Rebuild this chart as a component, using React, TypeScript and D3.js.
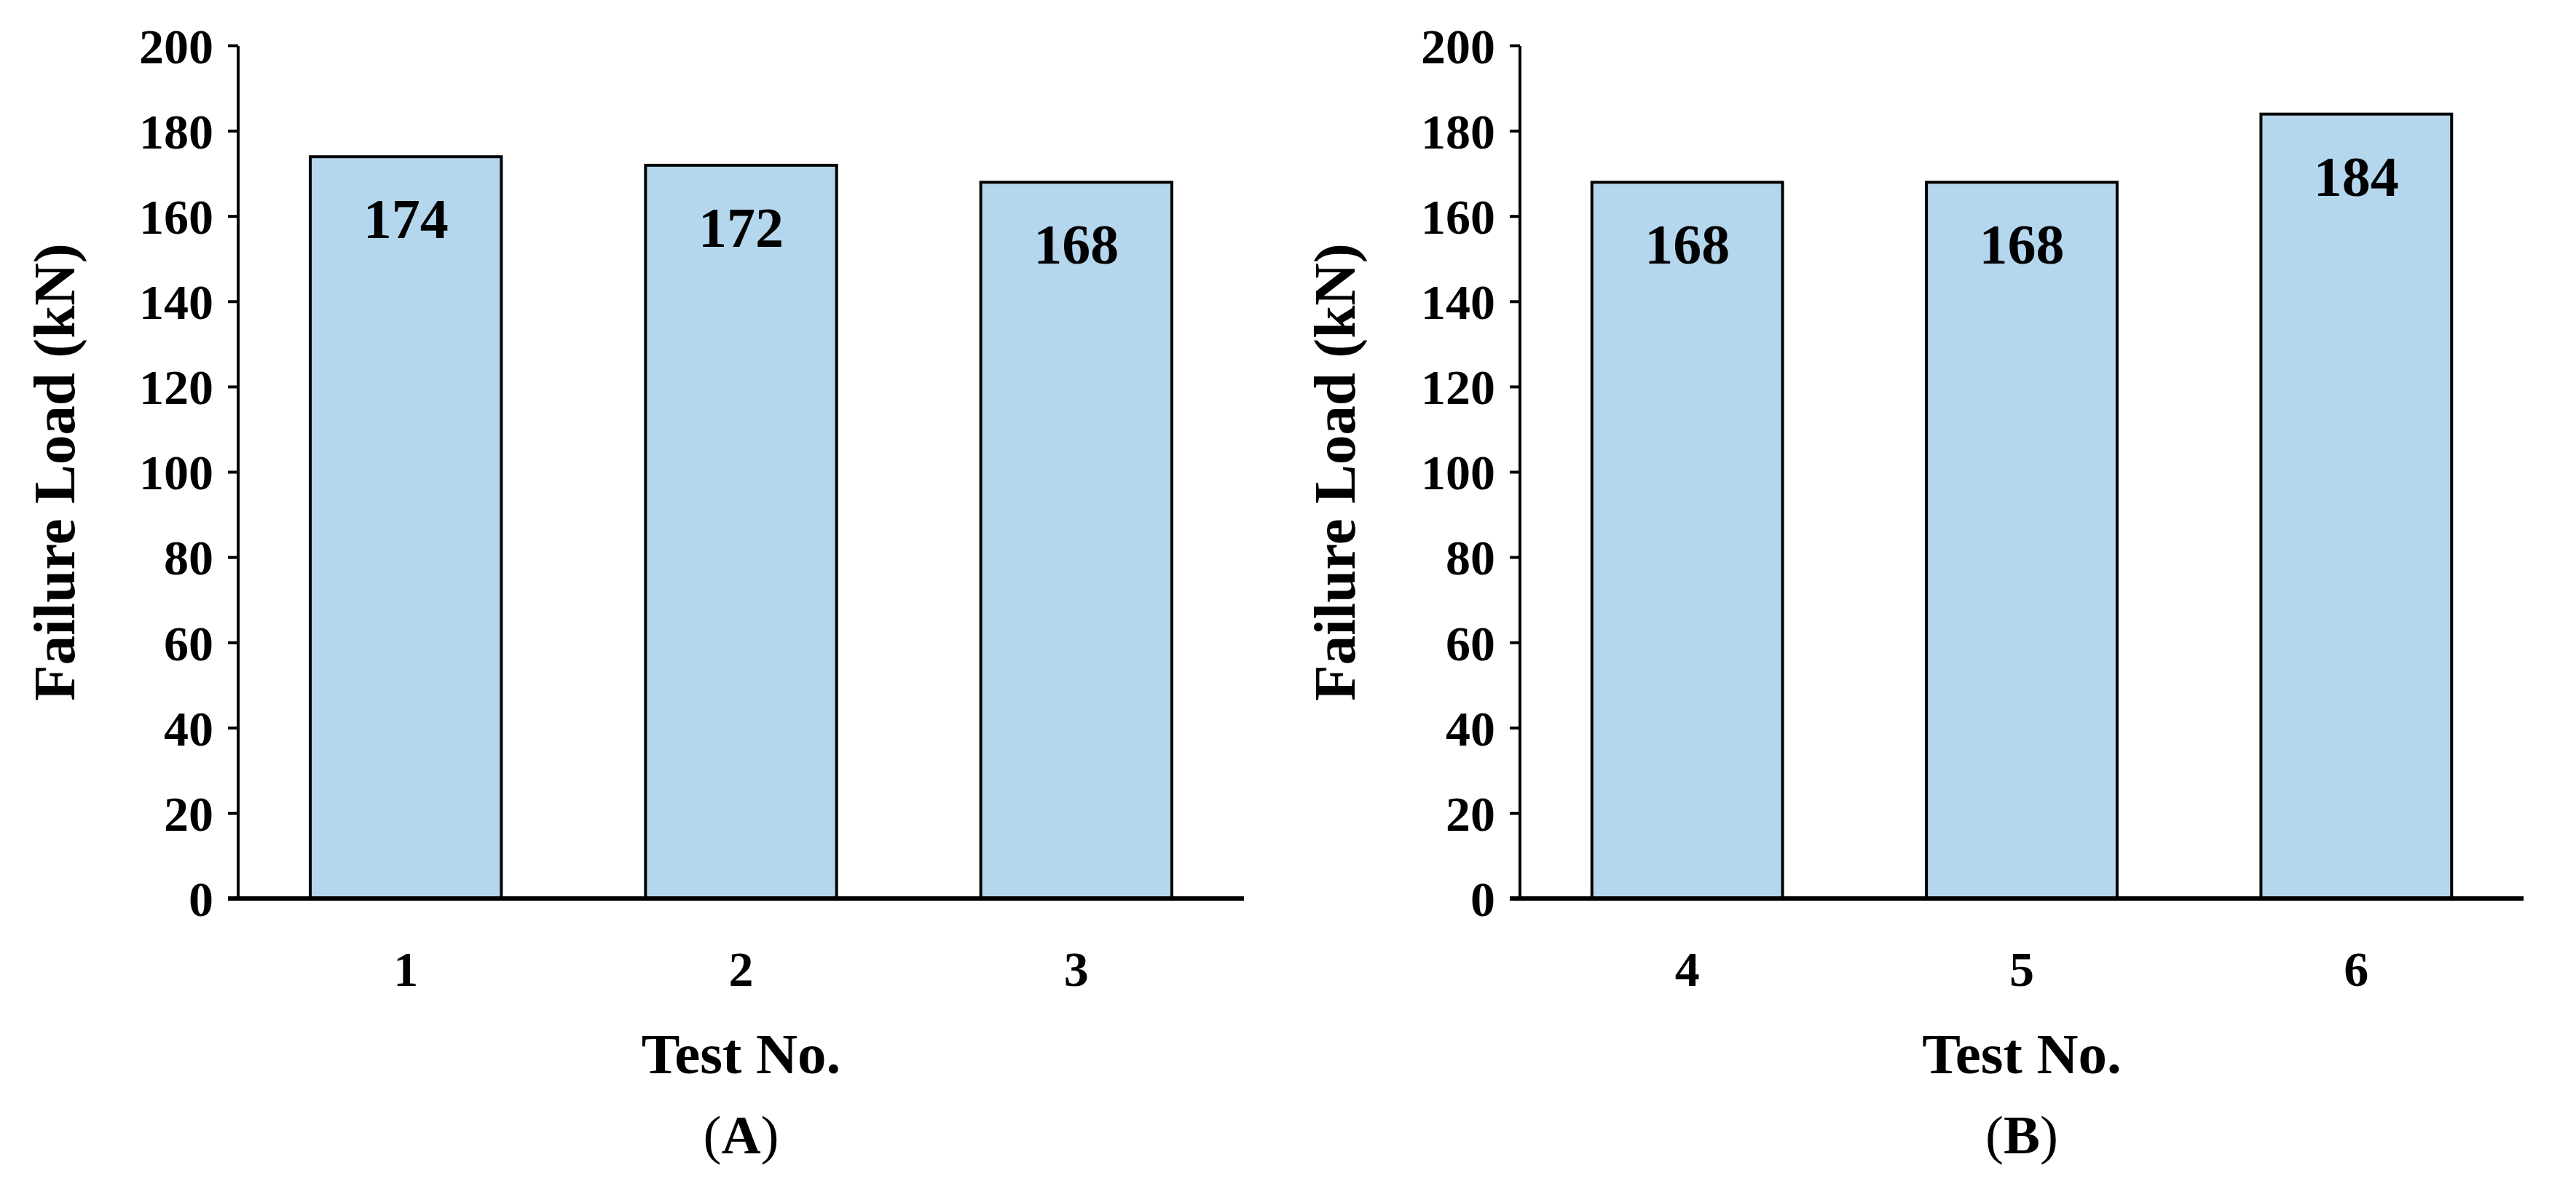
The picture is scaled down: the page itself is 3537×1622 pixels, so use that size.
import React, { useEffect } from "react";
import * as d3 from "d3";

const testsA = ["1", "2", "3"];
const loadsA = [174, 172, 168];
const testsB = ["4", "5", "6"];
const loadsB = [168, 168, 184];
const yTicks = [0, 20, 40, 60, 80, 100, 120, 140, 160, 180, 200];
const panelLabels = ["(A)", "(B)"];
const yTitle = "Failure Load (kN)";
const xTitle = "Test No.";

const W = 3537;
const H = 1622;
const FONT = "'Liberation Serif', 'Times New Roman', serif";

type PanelProps = {
  cats: string[];
  vals: number[];
  x0: number;
  x1: number;
  yTitleX: number;
  label: string;
};

const y = d3.scaleLinear().domain([0, 200]).range([1234, 63]);

function Panel({ cats, vals, x0, x1, yTitleX, label }: PanelProps) {
  const x = d3.scaleBand<string>().domain(cats).range([x0, x1]).paddingInner(0.43).paddingOuter(0.215);
  const tick = 14;
  const midX = (x0 + x1) / 2;
  return (
    <g>
      {vals.map((v, i) => (
        <g key={i}>
          <rect
            x={x(cats[i])!}
            y={y(v)}
            width={x.bandwidth()}
            height={y(0) - y(v)}
            fill="#B4D7EE"
            stroke="#000"
            strokeWidth={4}
          />
          <text
            x={x(cats[i])! + x.bandwidth() / 2}
            y={y(v) + 112}
            textAnchor="middle"
            fontFamily={FONT}
            fontWeight="bold"
            fontSize={78}
          >
            {v}
          </text>
          <text
            x={x(cats[i])! + x.bandwidth() / 2}
            y={1354}
            textAnchor="middle"
            fontFamily={FONT}
            fontWeight="bold"
            fontSize={68}
          >
            {cats[i]}
          </text>
        </g>
      ))}
      <line x1={x0} x2={x0} y1={y(200)} y2={y(0)} stroke="#000" strokeWidth={4} />
      {yTicks.map((t) => (
        <g key={t}>
          <line x1={x0 - tick} x2={x0} y1={y(t)} y2={y(t)} stroke="#000" strokeWidth={4} />
          <text
            x={x0 - 34}
            y={y(t)}
            dy="0.35em"
            textAnchor="end"
            fontFamily={FONT}
            fontWeight="bold"
            fontSize={68}
          >
            {t}
          </text>
        </g>
      ))}
      <line x1={x0 - tick} x2={x1} y1={y(0)} y2={y(0)} stroke="#000" strokeWidth={6} />
      <text
        x={midX}
        y={1474}
        textAnchor="middle"
        fontFamily={FONT}
        fontWeight="bold"
        fontSize={79}
      >
        {xTitle}
      </text>
      <text
        transform={`translate(${yTitleX},${(y(0) + y(200)) / 2}) rotate(-90)`}
        textAnchor="middle"
        dy="0.35em"
        fontFamily={FONT}
        fontWeight="bold"
        fontSize={81}
      >
        {yTitle}
      </text>
      <text
        x={midX}
        y={1584}
        textAnchor="middle"
        fontFamily={FONT}
        fontSize={75}
      >
        {label.slice(0, 1)}
        <tspan fontWeight="bold">{label.slice(1, -1)}</tspan>
        {label.slice(-1)}
      </text>
    </g>
  );
}

export default function App() {
  useEffect(() => {
    document.body.style.margin = "0";
  }, []);
  return (
    <svg
      width={W}
      height={H}
      viewBox={`0 0 ${W} ${H}`}
      style={{ display: "block", position: "absolute", left: 0, top: 0, background: "#fff" }}
    >
      <rect width={W} height={H} fill="#fff" />
      <Panel cats={testsA} vals={loadsA} x0={327} x1={1708} yTitleX={74} label={panelLabels[0]} />
      <Panel cats={testsB} vals={loadsB} x0={2087} x1={3465} yTitleX={1832} label={panelLabels[1]} />
    </svg>
  );
}
